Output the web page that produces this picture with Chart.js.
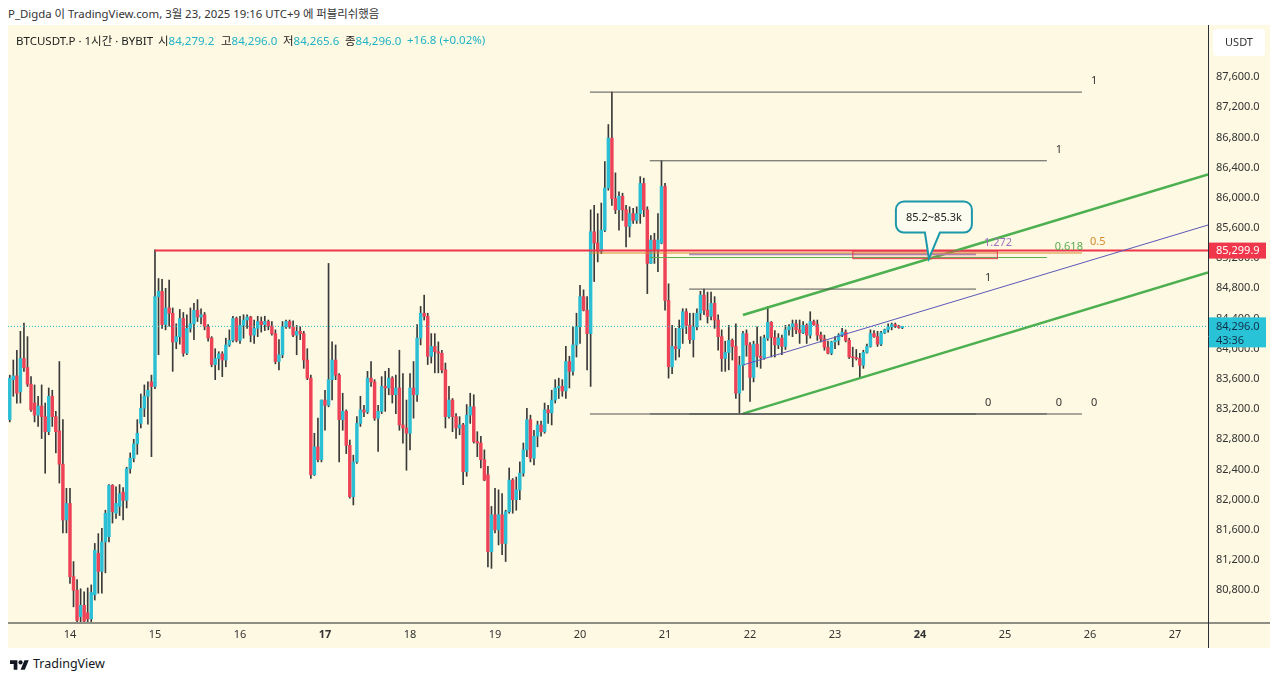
<!DOCTYPE html>
<html lang="ko">
<head>
<meta charset="utf-8">
<title>BTCUSDT.P 1시간 BYBIT</title>
<script src="https://cdn.jsdelivr.net/npm/chart.js@4.4.1/dist/chart.umd.min.js"></script>
<style>
  html, body { margin: 0; padding: 0; background: #fff; }
  body { width: 1280px; height: 681px; position: relative; overflow: hidden;
         font-family: "Noto Sans", "Noto Sans CJK KR", sans-serif; color: #333; }
  #hdr { position: absolute; left: 8px; top: 5px; font-size: 11.4px; color: #333; white-space: nowrap; }
  #pane { position: absolute; left: 8px; top: 25px; width: 1262px; height: 623px; background: #fdf9e2; }
  #pane canvas { position: absolute; left: 0; top: 0; }
  .lg { position: absolute; top: 32px; font-size: 11.5px; color: #222; white-space: nowrap; z-index: 2; }
  .lg b { font-weight: normal; color: #20b2c6; }
  #foot { position: absolute; left: 10px; top: 655px; font-size: 12.5px; color: #131722; display: flex; align-items: center; }
  #foot svg { margin-right: 4px; }
</style>
</head>
<body>
<div id="hdr">P_Digda 이 TradingView.com, 3월 23, 2025 19:16 UTC+9 에 퍼블리쉬했음</div>
<div id="pane"><canvas id="chart" width="1262" height="623"></canvas></div>
<div class="lg" style="left:16px">BTCUSDT.P · 1시간 · BYBIT</div>
<div class="lg" style="left:158px">시<b>84,279.2</b></div>
<div class="lg" style="left:221px">고<b>84,296.0</b></div>
<div class="lg" style="left:283px">저<b>84,265.6</b></div>
<div class="lg" style="left:345px">종<b>84,296.0</b></div>
<div class="lg" style="left:407px"><b>+16.8 (+0.02%)</b></div>
<div id="foot">
  <svg width="19" height="12" viewBox="0 0 36 22"><path d="M14 22H7V11H0V4h14v18z" fill="#131722"/><circle cx="20" cy="8" r="4" fill="#131722"/><path d="M28 22h-8l7.5-18h8z" fill="#131722"/></svg>
  TradingView
</div>
<script>
// 1시간봉, x값 = 3월 14일 00:00 기준 경과 시간
const firstHour = -17;

const opens = [
  83060, 83590, 83640, 83430, 83870, 83750, 83530, 83280, 83120, 83240,
  83100, 82900, 83370, 83100, 82910, 82470, 81730, 81950, 80980, 80800,
  80450, 80600, 80500, 80420, 80740, 81290, 81050, 81440, 81510, 82190,
  81820, 81910, 82100, 81990, 82410, 82550, 82740, 83010, 83210, 83370,
  83560, 83500, 84690, 84760, 84320, 84540, 84470, 84090, 84160, 84400,
  83940, 84270, 84330, 84510, 84420, 84450, 84290, 84140, 83790, 83870,
  83930, 83850, 84050, 84110, 84400, 84110, 84310, 84380, 84420, 84180,
  84270, 84360, 84320, 84360, 84300, 84200, 83830, 83920, 84290, 84360,
  84290, 84180, 84230, 84200, 83850, 83610, 82330, 82700, 82530, 83320,
  83250, 83590, 83850, 83650, 83060, 83170, 82720, 82040, 82500, 83010,
  83190, 83160, 83610, 83560, 83080, 83170, 83500, 83480, 83610, 83390,
  83480, 82990, 82950, 82880, 83480, 83390, 84140, 84470, 84430, 83900,
  84030, 83960, 83940, 83720, 83100, 83320, 83100, 82950, 82990, 82370,
  83120, 83230, 82770, 82750, 82530, 82330, 81310, 81800, 81600, 81800,
  81420, 81840, 82260, 82000, 82130, 82350, 82660, 83060, 82550, 82840,
  82990, 82900, 83190, 83150, 83320, 83480, 83500, 83440, 83830, 83700,
  84050, 84290, 84690, 84510, 84200, 85550, 85400, 85290, 85570, 86130,
  86790, 85990, 85840, 86020, 85840, 85620, 85790, 85700, 85790, 86190,
  85840, 85130, 85440, 85310, 85400, 86150, 84640, 83760, 84030, 84000,
  84270, 84490, 84310, 84120, 84290, 84470, 84710, 84510, 84430, 84600,
  84380, 84160, 83870, 83950, 84110, 84030, 83410, 83780, 84200, 84050,
  83620, 84060, 83900, 83880, 84140, 84350, 84150, 84050, 84140, 84030,
  84250, 84290, 84330, 84250, 84210, 84310, 84180, 84360, 84320, 84180,
  84130, 84020, 83940, 84090, 84110, 84180, 84220, 84110, 83890, 83880,
  83870, 83780, 83950, 84030, 84200, 84160, 84060, 84210, 84250, 84290,
  84320, 84300, 84279.2
];
const highs = [
  83650, 83850, 83980, 84230, 84340, 84160, 83630, 83520, 83370, 83520,
  83280, 83480, 83450, 83170, 83830, 83060, 82150, 82150, 81180, 80940,
  80820, 80780, 80830, 80870, 81420, 81550, 81620, 81860, 82200, 82200,
  82170, 82200, 82160, 82430, 82620, 82800, 83060, 83400, 83520, 83560,
  83650, 85310, 84930, 84920, 84800, 84910, 84540, 84330, 84520, 84480,
  84450, 84540, 84600, 84650, 84530, 84480, 84320, 84160, 84000, 83960,
  83960, 84140, 84250, 84430, 84420, 84430, 84450, 84450, 84430, 84380,
  84430, 84420, 84430, 84380, 84360, 84250, 84120, 84360, 84380, 84380,
  84370, 84310, 84290, 84230, 84000, 83650, 82880, 83080, 83320, 83450,
  85130, 84090, 84050, 83670, 83410, 83190, 82790, 82590, 83100, 83370,
  83250, 83700, 83830, 83590, 83250, 83630, 83700, 83740, 83630, 83650,
  83980, 83670, 83320, 83670, 83830, 84320, 84560, 84710, 84470, 84200,
  84200, 84090, 83980, 83810, 83500, 83340, 83140, 83100, 83010, 83260,
  83410, 83390, 82900, 82840, 82660, 82440, 81910, 82150, 82130, 82080,
  81860, 82420, 82280, 82300, 82500, 82750, 83210, 83120, 82920, 83040,
  83040, 83280, 83250, 83450, 83590, 83610, 83590, 84030, 83900, 84290,
  84470, 84840, 84780, 84690, 85840, 85900, 85790, 85930, 86480, 86970,
  87400, 86330, 86080, 86060, 85900, 85880, 85860, 85880, 86280, 86260,
  85880, 85500, 85530, 85790, 86490, 86190, 84860, 84310, 84270, 84380,
  84530, 84530, 84470, 84470, 84530, 84760, 84790, 84750, 84750, 84690,
  84450, 84250, 84100, 84310, 84130, 84330, 83900, 84230, 84250, 84080,
  84100, 84290, 84160, 84180, 84560, 84360, 84240, 84200, 84180, 84310,
  84320, 84380, 84380, 84380, 84360, 84330, 84490, 84380, 84380, 84220,
  84180, 84100, 84100, 84160, 84200, 84270, 84250, 84140, 84020, 83990,
  83940, 83980, 84060, 84250, 84240, 84230, 84230, 84260, 84330, 84340,
  84340, 84310, 84296
];
const lows = [
  83030, 83370, 83280, 83280, 83700, 83500, 83170, 83030, 82970, 82810,
  82350, 82860, 82970, 82620, 82220, 81560, 81560, 80890, 80580, 80320,
  80380, 80330, 80330, 80360, 80670, 80760, 80760, 81030, 81440, 81690,
  81750, 81790, 81730, 81890, 82350, 82500, 82600, 82950, 83100, 83000,
  82570, 83470, 83920, 84270, 84250, 84300, 83700, 84000, 84060, 83900,
  83920, 84220, 84120, 84360, 84330, 84250, 84100, 83760, 83590, 83720,
  83630, 83760, 84030, 84090, 84090, 84070, 84140, 84270, 84090, 84070,
  84160, 84220, 84240, 84250, 84180, 83800, 83720, 83880, 84270, 84270,
  84160, 83920, 84120, 83740, 83590, 82280, 82320, 82500, 82500, 82920,
  83230, 83320, 83590, 82500, 82920, 82610, 82020, 81930, 82480, 82970,
  83100, 83140, 83500, 83050, 82640, 83140, 83170, 83390, 83280, 83140,
  82920, 82750, 82390, 82660, 83080, 83300, 84050, 84380, 83790, 83810,
  83680, 83680, 83680, 82950, 83080, 82900, 82810, 82860, 82200, 82310,
  83010, 82750, 82570, 82420, 82250, 81110, 81090, 81560, 81400, 81270,
  81180, 81820, 81820, 81860, 82000, 82310, 82570, 82500, 82460, 82700,
  82840, 82880, 83010, 82990, 83280, 83340, 83370, 83340, 83480, 83650,
  83890, 84070, 84500, 83720, 83500, 84890, 85150, 85260, 85550, 86100,
  85900, 85790, 85570, 85700, 85350, 85480, 85660, 85660, 85660, 85750,
  84730, 85130, 85130, 85020, 85390, 84510, 83610, 83670, 83850, 83890,
  84070, 84200, 84070, 83890, 84250, 84380, 84450, 84340, 84380, 84270,
  83980, 83700, 83700, 83720, 83850, 83340, 83150, 83450, 83900, 83300,
  83560, 83760, 83740, 83860, 84110, 83890, 83890, 84000, 83920, 83990,
  84180, 84160, 84200, 84070, 84200, 84070, 84140, 84310, 84110, 84090,
  83980, 83930, 83920, 84000, 84050, 84160, 84090, 83870, 83760, 83850,
  83610, 83740, 83940, 84020, 84150, 84030, 84040, 84200, 84220, 84250,
  84280, 84270, 84265.6
];
const closes = [
  83610, 83640, 83410, 83870, 83750, 83530, 83190, 83120, 83240, 83100,
  82900, 83370, 83100, 82900, 82470, 81730, 81950, 80980, 80800, 80400,
  80600, 80390, 80420, 80770, 81330, 81050, 81440, 81820, 82190, 81840,
  81950, 82080, 81990, 82410, 82550, 82740, 82880, 83210, 83370, 83450,
  83500, 84690, 84760, 84320, 84540, 84470, 84090, 84160, 84400, 83940,
  84270, 84330, 84510, 84420, 84450, 84290, 84140, 83790, 83870, 83930,
  83850, 84050, 84110, 84400, 84110, 84310, 84380, 84420, 84180, 84270,
  84360, 84320, 84360, 84300, 84200, 83830, 83920, 84290, 84360, 84290,
  84180, 84230, 84200, 83850, 83610, 82330, 82700, 82530, 83320, 83250,
  83590, 83850, 83650, 83060, 83170, 82720, 82040, 82500, 83010, 83190,
  83160, 83610, 83560, 83080, 83170, 83500, 83480, 83610, 83390, 83480,
  82990, 82950, 82880, 83480, 83390, 84140, 84470, 84430, 83900, 84030,
  83960, 83940, 83720, 83100, 83320, 83100, 82950, 82990, 82370, 83120,
  83230, 82770, 82750, 82530, 82260, 81310, 81800, 81600, 81800, 81420,
  81840, 82260, 82000, 82130, 82350, 82660, 83060, 82550, 82840, 82990,
  82900, 83190, 83150, 83320, 83480, 83500, 83440, 83830, 83700, 84050,
  84290, 84690, 84510, 84200, 85550, 85400, 85290, 85570, 86130, 86790,
  85990, 85840, 86020, 85840, 85620, 85790, 85700, 85790, 86190, 85840,
  85130, 85440, 85310, 85440, 86150, 84640, 83760, 84030, 84000, 84270,
  84490, 84310, 84120, 84290, 84470, 84710, 84510, 84430, 84600, 84380,
  84160, 83870, 83950, 84110, 84030, 83410, 83780, 84200, 84050, 83620,
  84060, 83900, 83880, 84140, 84350, 84150, 84050, 84140, 84030, 84250,
  84290, 84330, 84250, 84210, 84310, 84180, 84360, 84320, 84180, 84130,
  84020, 83940, 84090, 84110, 84180, 84220, 84110, 83890, 83880, 83870,
  83780, 83950, 84030, 84200, 84160, 84060, 84210, 84250, 84290, 84320,
  84300, 84280, 84296
];

// 축
const dayHours = [0, 24, 48, 72, 96, 120, 144, 168, 192, 216, 240, 264, 288, 312];
const dayLabels = ['14', '15', '16', '17', '18', '19', '20', '21', '22', '23', '24', '25', '26', '27'];
const boldDays = ['17', '24'];
const priceTicks = [80800, 81200, 81600, 82000, 82400, 82800, 83200, 83600, 84000,
                    84400, 84800, 85200, 85600, 86000, 86400, 86800, 87200, 87600];
const xMin = -17.5, xMax = 321.3;
const yMin = 80379, yMax = 88289;

// 작도
const alertPrice = 85299.9;
const alertFrom = 24;
const lastPrice = 84296.0;
const countdown = '43:36';

const fibStart = [146.8, 163.7, 174.8];
const fibEnd = [285.7, 275.8, 255.8];
const fibZero = [83135, 83135, 83135];
const fibOne = [87400, 86490, 84790];
const fibLevelName = ['0.5', '0.618', '1.272'];
const fibLevelPrice = [85268, 85208, 85252];
const fibLevelColor = ['#d68a2c', '#5cab52', '#a98cbc'];
const fibTextColor = ['#d68a2c', '#5cab52', '#a070c0'];

const channelX = [190, 321.3];
const upperChannel = [84447, 86310];
const lowerChannel = [83140, 85010];
const midLine = [83784, 85639];

const zoneX = [220.9, 261.7];
const zonePrice = [85200, 85300];
const calloutAt = [242.5, 85195];
const calloutText = '85.2~85.3k';

const UP = '#2bbfd5';
const DOWN = '#ee4257';

const candleX = opens.map((_, i) => firstHour + i);

function seg(x0, y0, x1, y1, color, width, dash) {
  return {
    type: 'line',
    data: [{ x: x0, y: y0 }, { x: x1, y: y1 }],
    borderColor: color,
    borderWidth: width,
    borderDash: dash || [],
    pointRadius: 0,
    fill: false,
    order: 1
  };
}

const drawLines = [];
fibStart.forEach((s, i) => {
  drawLines.push(seg(s, fibOne[i], fibEnd[i], fibOne[i], '#555', 1));
  drawLines.push(seg(s, fibZero[i], fibEnd[i], fibZero[i], '#555', 1));
  drawLines.push(seg(s, fibLevelPrice[i], fibEnd[i], fibLevelPrice[i], fibLevelColor[i], i === 2 ? 2 : 1));
});
drawLines.push(seg(channelX[0], upperChannel[0], channelX[1], upperChannel[1], '#4caf50', 2.5));
drawLines.push(seg(channelX[0], lowerChannel[0], channelX[1], lowerChannel[1], '#4caf50', 2.5));
drawLines.push(seg(channelX[0], midLine[0], channelX[1], midLine[1], '#5b58b8', 1));
drawLines.push(seg(xMin, lastPrice, xMax, lastPrice, '#26b6ca', 1, [1, 2]));
drawLines.push(seg(alertFrom, alertPrice, xMax, alertPrice, '#f0364b', 2));

const overlay = {
  id: 'overlay',
  afterDatasetsDraw(chart) {
    const { ctx, chartArea: a, scales: { x, y } } = chart;
    ctx.save();
    ctx.beginPath();
    ctx.rect(a.left, a.top, a.width, a.height);
    ctx.clip();

    // 가격 구간 박스
    const zx0 = x.getPixelForValue(zoneX[0]), zx1 = x.getPixelForValue(zoneX[1]);
    const zy0 = y.getPixelForValue(zonePrice[1]), zy1 = y.getPixelForValue(zonePrice[0]);
    ctx.fillStyle = 'rgba(242,54,69,0.12)';
    ctx.fillRect(zx0, zy0, zx1 - zx0, zy1 - zy0);
    ctx.strokeStyle = '#e33a4c';
    ctx.lineWidth = 1;
    ctx.strokeRect(zx0 + 0.5, zy0 + 0.5, zx1 - zx0, zy1 - zy0);

    // 피보나치 라벨
    ctx.font = '11px "Noto Sans", sans-serif';
    ctx.textBaseline = 'middle';
    ctx.textAlign = 'left';
    fibStart.forEach((s, i) => {
      const ex = x.getPixelForValue(fibEnd[i]);
      ctx.fillStyle = '#333';
      ctx.fillText('1', ex + 9, y.getPixelForValue(fibOne[i]) - 11);
      ctx.fillText('0', ex + 9, y.getPixelForValue(fibZero[i]) - 11);
      ctx.fillStyle = fibTextColor[i];
      ctx.fillText(fibLevelName[i], ex + 8, y.getPixelForValue(fibLevelPrice[i]) - 11);
    });

    // 말풍선
    const ax = x.getPixelForValue(calloutAt[0]), ay = y.getPixelForValue(calloutAt[1]);
    const bw = 76, bh = 31, bx = ax - 33, by = ay - 57, r = 8;
    const bb = by + bh;
    ctx.beginPath();
    ctx.moveTo(bx + r, by);
    ctx.arcTo(bx + bw, by, bx + bw, bb, r);
    ctx.arcTo(bx + bw, bb, bx, bb, r);
    ctx.lineTo(ax + 11, bb);
    ctx.lineTo(ax, ay);
    ctx.lineTo(ax - 4, bb);
    ctx.arcTo(bx, bb, bx, by, r);
    ctx.arcTo(bx, by, bx + bw, by, r);
    ctx.closePath();
    ctx.fillStyle = '#fdfcf1';
    ctx.fill();
    ctx.strokeStyle = '#1c98aa';
    ctx.lineWidth = 2;
    ctx.stroke();
    ctx.fillStyle = '#222';
    ctx.textAlign = 'center';
    ctx.fillText(calloutText, bx + bw / 2, by + bh / 2 + 0.5);
    ctx.restore();
  },
  afterDraw(chart) {
    const { ctx, chartArea: a, scales: { y } } = chart;
    const W = chart.width, H = chart.height;
    ctx.save();
    // 축 경계선
    ctx.strokeStyle = '#8f8e84';
    ctx.lineWidth = 2;
    ctx.beginPath();
    ctx.moveTo(0, a.bottom + 1);
    ctx.lineTo(W, a.bottom + 1);
    ctx.stroke();
    ctx.strokeStyle = '#2a2e39';
    ctx.lineWidth = 1;
    ctx.beginPath();
    ctx.moveTo(a.right + 0.5, 0);
    ctx.lineTo(a.right + 0.5, H);
    ctx.stroke();

    ctx.font = '11px "Noto Sans", sans-serif';
    ctx.textBaseline = 'middle';
    ctx.textAlign = 'left';
    const fmt = v => v.toLocaleString('en-US', { minimumFractionDigits: 1, maximumFractionDigits: 1 });

    // 알림 가격 라벨
    const ry = y.getPixelForValue(alertPrice);
    ctx.fillStyle = '#f0364b';
    ctx.fillRect(a.right + 1, ry - 8, 57, 16);
    ctx.fillStyle = '#fff';
    ctx.fillText(fmt(alertPrice), a.right + 8, ry);

    // 현재가 라벨
    const cy = y.getPixelForValue(lastPrice);
    ctx.fillStyle = '#29c3d7';
    ctx.fillRect(a.right + 1, cy - 9, 57, 30);
    ctx.fillStyle = '#10304a';
    ctx.fillText(fmt(lastPrice), a.right + 8, cy);
    ctx.fillText(countdown, a.right + 8, cy + 14);

    // 통화 박스
    ctx.fillStyle = '#fff';
    ctx.beginPath();
    ctx.roundRect(a.right + 5, 4, 52, 27, 4);
    ctx.fill();
    ctx.fillStyle = '#333';
    ctx.textAlign = 'center';
    ctx.fillText('USDT', a.right + 31, 18);
    ctx.restore();
  }
};

Chart.defaults.font.family = '"Noto Sans", "Noto Sans CJK KR", sans-serif';
Chart.defaults.font.size = 11;
Chart.defaults.color = '#333';

new Chart(document.getElementById('chart'), {
  type: 'bar',
  data: {
    datasets: [
      {
        label: 'wick',
        data: candleX.map((x, i) => ({ x, y: [lows[i], highs[i]] })),
        backgroundColor: '#3a3a3a',
        barThickness: 1,
        grouped: false,
        order: 3
      },
      {
        label: 'body',
        data: candleX.map((x, i) => ({ x, y: [opens[i], closes[i]] })),
        backgroundColor: c => closes[c.dataIndex] >= opens[c.dataIndex] ? UP : DOWN,
        barThickness: 2.8,
        minBarLength: 1,
        grouped: false,
        order: 2
      },
      ...drawLines
    ]
  },
  options: {
    responsive: false,
    animation: false,
    devicePixelRatio: 1,
    layout: { padding: 0 },
    plugins: { legend: { display: false }, tooltip: { enabled: false } },
    scales: {
      x: {
        type: 'linear',
        position: 'bottom',
        min: xMin,
        max: xMax,
        offset: false,
        afterFit: s => { s.height = 26; s.paddingLeft = 0; s.paddingRight = 0; },
        afterBuildTicks: s => { s.ticks = dayHours.map(v => ({ value: v })); },
        grid: { display: false, drawTicks: false },
        border: { display: false },
        ticks: {
          autoSkip: false,
          maxRotation: 0,
          padding: 6,
          color: '#333',
          callback: (v, i) => dayLabels[i],
          font: c => ({ size: 11, weight: boldDays.includes(dayLabels[c.index]) ? 'bold' : 'normal' })
        }
      },
      y: {
        type: 'linear',
        position: 'right',
        min: yMin,
        max: yMax,
        afterFit: s => { s.width = 62; s.paddingTop = 0; s.paddingBottom = 0; },
        afterBuildTicks: s => { s.ticks = priceTicks.map(v => ({ value: v })); },
        grid: { display: false, drawTicks: false },
        border: { display: false },
        ticks: {
          padding: 8,
          color: '#333',
          callback: v => v.toLocaleString('en-US', { minimumFractionDigits: 1, maximumFractionDigits: 1 })
        }
      }
    }
  },
  plugins: [overlay]
});
</script>
</body>
</html>
